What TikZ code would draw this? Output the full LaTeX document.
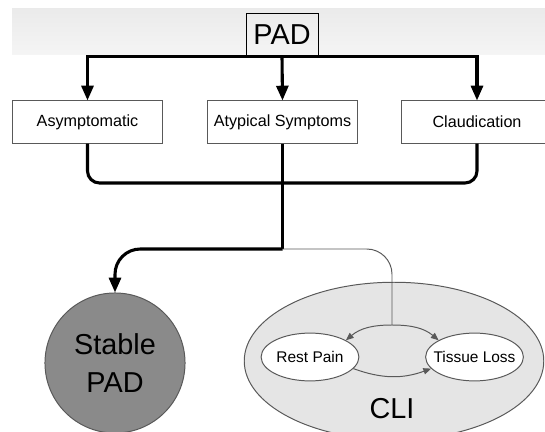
\documentclass[tikz,border=0pt]{standalone}
\usepackage{fontspec}
\setmainfont{Liberation Sans}
\usetikzlibrary{arrows.meta,shapes.geometric}
\definecolor{lightg}{rgb}{0.9,0.9,0.9}
\definecolor{darkg}{rgb}{0.54,0.54,0.54}
\definecolor{bandtop}{rgb}{0.92,0.92,0.92}
\definecolor{bandbot}{rgb}{0.96,0.96,0.96}
\definecolor{edgeg}{rgb}{0.35,0.35,0.35}

\begin{document}
\begin{tikzpicture}[x=0.025cm,y=-0.025cm,
  catbox/.style={rectangle,draw=edgeg,line width=0.7pt,fill=white,minimum width=107pt,minimum height=29.9pt,inner sep=0pt,font=\fontsize{11.5}{13}\selectfont},
  stage/.style={ellipse,draw=edgeg,line width=0.7pt,fill=white,minimum width=69.5pt,minimum height=34pt,inner xsep=-5pt,inner ysep=0pt,font=\fontsize{11}{13}\selectfont},
  bigfont/.style={font=\fontsize{20.5}{27.5}\selectfont},
  heavy/.style={line width=2.2pt},
  heavyarrow/.style={line width=2.2pt,-{Triangle[length=10.5pt,width=8.5pt]}},
  lightline/.style={draw=edgeg,line width=0.7pt},
  lightarrow/.style={draw=edgeg,line width=0.7pt,-{Triangle[length=5.5pt,width=4.5pt]}}]
\useasboundingbox (0,0) rectangle (545,432);
\shade[top color=bandtop,bottom color=bandbot] (12,9) rectangle (545,55);
\node[rectangle,draw,line width=0.7pt,minimum width=51.2pt,minimum height=29.9pt,inner sep=0pt,bigfont] (pad) at (282,35) {PAD};
\node[catbox] (asym) at (87.5,122) {Asymptomatic};
\node[catbox] (atyp) at (282.5,122) {Atypical Symptoms};
\node[catbox] (claud) at (477,122) {Claudication};
\node[ellipse,lightline,fill=lightg,minimum width=213pt,minimum height=112pt] (cli) at (394,361) {};
\node[bigfont] (clitext) at (392,409) {CLI};
\node[stage] (rest) at (310,357) {Rest Pain};
\node[stage] (tissue) at (474.5,357) {Tissue Loss};
\node[circle,lightline,fill=darkg,minimum size=99.6pt,inner sep=0pt,bigfont,align=center] (stable) at (115,363) {Stable\\PAD};
\coordinate (join) at (282.5,183);
\coordinate (split) at (282.5,249);
\coordinate (fork) at (392,325);
\draw[heavyarrow] (pad.south) -- (atyp.north);
\draw[heavyarrow] (pad.south) -| (asym.north);
\draw[heavyarrow] (pad.south) -| (claud.north);
\draw[heavy,rounded corners=8.5pt] (asym.south) |- (join) -| (claud.south);
\draw[heavy] (atyp.south) -- (split);
\draw[heavyarrow,rounded corners=18pt] (split) -| (stable.north);
\draw[lightline,rounded corners=18pt] (split) -| (fork);
\draw[lightarrow] (fork) to[out=180,in=40] (rest.25);
\draw[lightarrow] (fork) to[out=0,in=140] (tissue.155);
\draw[lightarrow] (rest.-15) to[bend right=20] (tissue.195);
\end{tikzpicture}
\end{document}
